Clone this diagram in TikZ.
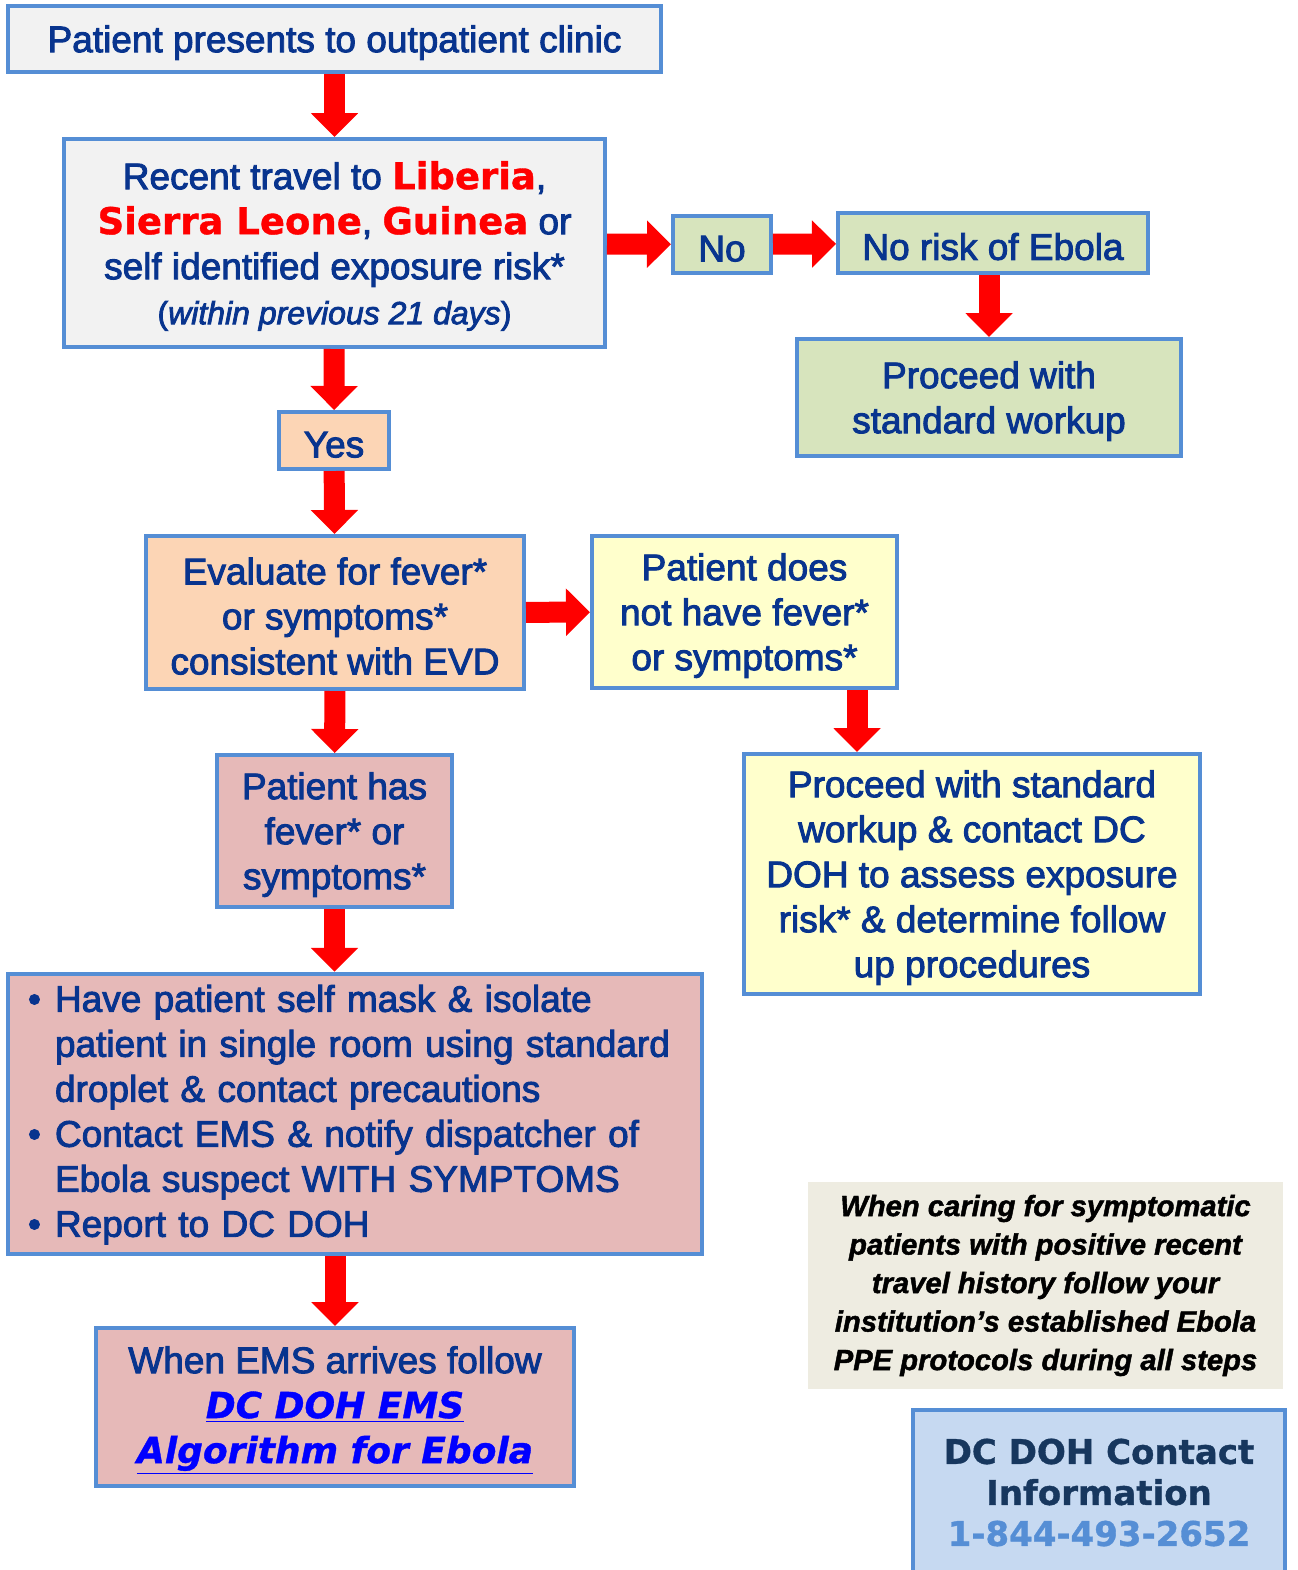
\documentclass[tikz,border=0pt]{standalone}
\usepackage{fontspec}
\setmainfont{Liberation Sans}[FakeBold=2.5]
\newfontfamily\notef{Liberation Sans}[FakeBold=1.5]
\newfontfamily\dvb{DejaVu Sans}[BoldFont={DejaVu Sans Bold},BoldItalicFont={DejaVu Sans Bold Oblique},FakeBold=1]
\usetikzlibrary{arrows.meta}
\definecolor{txt}{RGB}{8,52,142}
\definecolor{bord}{RGB}{85,142,213}
\definecolor{fgray}{RGB}{242,242,242}
\definecolor{fgreen}{RGB}{215,228,189}
\definecolor{fpeach}{RGB}{252,213,181}
\definecolor{fyellow}{RGB}{255,255,204}
\definecolor{fpink}{RGB}{230,185,184}
\definecolor{fnote}{RGB}{238,236,225}
\definecolor{fblue}{RGB}{198,217,241}
\definecolor{dnavy}{RGB}{23,55,94}
\definecolor{phone}{RGB}{85,142,213}
\definecolor{linkblue}{RGB}{0,0,255}
\newcommand\cty[1]{\textcolor{red}{\dvb\bfseries #1}}
\newcommand\firststrut{\rule{0pt}{17pt}}
\tikzset{
  box/.style={draw=bord, line width=2pt, align=center, text=txt, inner sep=2pt,
    font=\fontsize{18.5}{22.5}\selectfont},
  blk/.style={red, line width=10.5pt, -{Triangle[width=23pt,length=12pt]}},
}
\begin{document}
\begin{tikzpicture}[x=0.5pt,y=-0.5pt]
\useasboundingbox (0,0) rectangle (1297,1570);
\fill[white] (0,0) rectangle (1297,1570);

\node[box, fill=fgray, minimum width=326.5pt, minimum height=33pt] (start) at (334.5,39)
  {\firststrut Patient presents to outpatient clinic};
\node[box, fill=fgray, minimum width=270.5pt, minimum height=104pt] (travel) at (334.5,243)
  {\firststrut Recent travel to \cty{Liberia},\\ \cty{Sierra Leone}, \cty{Guinea} or\\ self identified exposure risk*\\
   {\fontsize{16}{24}\selectfont(\textit{within previous 21 days})}};
\node[box, fill=fgreen, minimum width=49pt, minimum height=28.5pt] (no) at (722,244.5) {\firststrut No};
\node[box, fill=fgreen, minimum width=155pt, minimum height=30pt] (norisk) at (993,243) {\firststrut No risk of Ebola};
\node[box, fill=fgreen, minimum width=192pt, minimum height=58.5pt] (proc1) at (989,397.5)
  {\firststrut Proceed with\\ standard workup};
\node[box, fill=fpeach, minimum width=55pt, minimum height=28.5pt] (yes) at (334,440.5) {\firststrut Yes};
\node[box, fill=fpeach, minimum width=189pt, minimum height=76.5pt] (eval) at (335,612.5)
  {\firststrut Evaluate for fever*\\ or symptoms*\\ consistent with EVD};
\node[box, fill=fyellow, minimum width=152.5pt, minimum height=76pt] (nofever) at (744.5,612)
  {\firststrut Patient does\\ not have fever*\\ or symptoms*};
\node[box, fill=fpink, minimum width=117.5pt, minimum height=76pt] (fever) at (334.5,831)
  {\firststrut Patient has\\ fever* or\\ symptoms*};
\node[box, fill=fyellow, minimum width=228pt, minimum height=120pt] (contact) at (972,874)
  {\firststrut Proceed with standard\\ workup \& contact DC\\ DOH to assess exposure\\ risk* \& determine follow\\ up procedures};
\node[box, fill=fpink, minimum width=347pt, minimum height=140pt, text width=327pt, inner xsep=10pt, align=left] (isolate) at (355,1114)
  {\begin{tabular}{@{}l@{}l@{}}
   \makebox[13.5pt][l]{\textbullet} & \firststrut Have patient self mask \& isolate\\
   & patient in single room using standard\\
   & droplet \& contact precautions\\
   \makebox[13.5pt][l]{\textbullet} & Contact EMS \& notify dispatcher of\\
   & Ebola suspect WITH SYMPTOMS\\
   \makebox[13.5pt][l]{\textbullet} & Report to DC DOH
   \end{tabular}};
\node[box, fill=fpink, minimum width=239pt, minimum height=79pt] (ems) at (335,1407)
  {\firststrut When EMS arrives follow\\
   {\color{linkblue}\dvb\bfseries\itshape\fontsize{18}{22.5}\selectfont\underline{DC DOH EMS}}\\
   {\color{linkblue}\dvb\bfseries\itshape\fontsize{18}{22.5}\selectfont\underline{Algorithm for Ebola}}};
\node[fill=fnote, minimum width=237.5pt, minimum height=103.5pt, align=center, text=black,
  font=\fontsize{14.6}{19.25}\selectfont\notef\bfseries\itshape] (note) at (1045.5,1285.5)
  {When caring for symptomatic\\ patients with positive recent\\ travel history follow your\\
   institution’s established Ebola\\ PPE protocols during all steps};
\node[box, fill=fblue, minimum width=186pt, minimum height=82.5pt, text=dnavy,
  font=\fontsize{17}{20.5}\selectfont\dvb\bfseries] (doh) at (1099,1492.5)
  {DC DOH Contact\\ Information\\ \textcolor{phone}{1-844-493-2652}};

\draw[blk] (start) -- (travel);
\draw[blk] (travel) -- (yes);
\draw[blk] (yes) -- (eval);
\draw[blk] (travel) -- (no);
\draw[blk] (no) -- (norisk);
\draw[blk] (proc1.north |- norisk.south) -- (proc1.north);
\draw[blk] (eval) -- (nofever);
\draw[blk] (eval) -- (fever);
\coordinate (ax) at (857,0);
\draw[blk] (ax |- nofever.south) -- (ax |- contact.north);
\draw[blk] (fever.south) -- (fever.south |- isolate.north);
\draw[blk] (ems.north |- isolate.south) -- (ems.north);
\end{tikzpicture}
\end{document}
